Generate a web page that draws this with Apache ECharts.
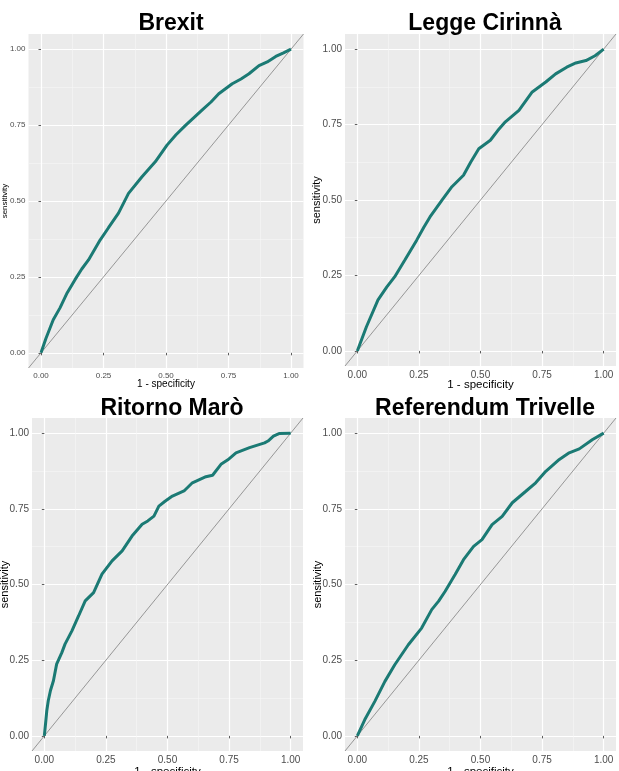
<!DOCTYPE html>
<html>
<head>
<meta charset="utf-8">
<script src="https://cdn.jsdelivr.net/npm/echarts@6/dist/echarts.min.js"></script>
<style>
html,body{margin:0;padding:0;background:#fff;}
#chart{width:619px;height:771px;}
</style>
</head>
<body>
<div id="chart"></div>
<script>
// ---- data ----
const panelTitles = ['Brexit', 'Legge Cirinnà', 'Ritorno Marò', 'Referendum Trivelle'];
const xTitle = '1 - specificity';
const yTitle = 'sensitivity';
const majorTicks = [0, 0.25, 0.5, 0.75, 1];
const minorTicks = [0.125, 0.375, 0.625, 0.875];
const refLineX = [-0.05, 1.05];
const refLineY = [-0.05, 1.05];

const brexitFpr = [0, 0.020, 0.049, 0.076, 0.105, 0.136, 0.163, 0.190, 0.237, 0.270, 0.310, 0.350, 0.404, 0.457, 0.504, 0.540, 0.578, 0.644, 0.680, 0.711, 0.765, 0.800, 0.832, 0.872, 0.905, 0.939, 0.970, 1];
const brexitTpr = [0, 0.048, 0.109, 0.148, 0.198, 0.241, 0.276, 0.306, 0.372, 0.412, 0.460, 0.525, 0.580, 0.629, 0.684, 0.718, 0.749, 0.799, 0.826, 0.853, 0.886, 0.902, 0.919, 0.946, 0.958, 0.976, 0.988, 1];

const cirinnaFpr = [0, 0.037, 0.084, 0.120, 0.152, 0.193, 0.241, 0.270, 0.295, 0.343, 0.384, 0.431, 0.460, 0.493, 0.540, 0.570, 0.601, 0.656, 0.710, 0.765, 0.805, 0.850, 0.887, 0.928, 0.965, 1];
const cirinnaTpr = [0, 0.080, 0.169, 0.212, 0.246, 0.301, 0.367, 0.410, 0.444, 0.499, 0.544, 0.582, 0.625, 0.670, 0.698, 0.730, 0.759, 0.797, 0.858, 0.891, 0.918, 0.940, 0.954, 0.962, 0.978, 1];

const maroFpr = [0, 0.005, 0.010, 0.016, 0.025, 0.037, 0.050, 0.071, 0.084, 0.112, 0.139, 0.166, 0.200, 0.234, 0.275, 0.316, 0.356, 0.397, 0.420, 0.445, 0.465, 0.490, 0.520, 0.567, 0.601, 0.656, 0.683, 0.717, 0.745, 0.778, 0.833, 0.894, 0.908, 0.930, 0.955, 1];
const maroTpr = [0, 0.040, 0.083, 0.116, 0.150, 0.182, 0.237, 0.275, 0.303, 0.347, 0.396, 0.446, 0.473, 0.534, 0.578, 0.611, 0.660, 0.699, 0.710, 0.726, 0.759, 0.775, 0.792, 0.809, 0.836, 0.856, 0.861, 0.897, 0.912, 0.935, 0.952, 0.968, 0.974, 0.990, 0.999, 1];

const trivelleFpr = [0, 0.030, 0.071, 0.112, 0.152, 0.207, 0.261, 0.302, 0.330, 0.356, 0.397, 0.431, 0.472, 0.506, 0.547, 0.588, 0.629, 0.684, 0.724, 0.765, 0.820, 0.860, 0.901, 0.955, 1];
const trivelleTpr = [0, 0.053, 0.114, 0.180, 0.235, 0.301, 0.356, 0.417, 0.445, 0.477, 0.533, 0.582, 0.626, 0.648, 0.698, 0.725, 0.770, 0.808, 0.836, 0.874, 0.913, 0.935, 0.948, 0.979, 1];

const curvesX = [brexitFpr, cirinnaFpr, maroFpr, trivelleFpr];
const curvesY = [brexitTpr, cirinnaTpr, maroTpr, trivelleTpr];

// ---- layout / style ----
const FONT = '"Liberation Sans", Arial, Helvetica, sans-serif';
const layout = [
  {left: 28.5, top: 34, width: 275, height: 334, label: 8, axTitle: 10, yTitle: 8, xGap: 11, yGap: 19.5, yLabMargin: 3},
  {left: 345, top: 34, width: 271, height: 332, label: 10, axTitle: 11.5, yTitle: 11, xGap: 13, yGap: 22.5, yLabMargin: 3},
  {left: 32, top: 418, width: 271, height: 333, label: 10, axTitle: 11.5, yTitle: 11, xGap: 15, yGap: 21.5, yLabMargin: 3},
  {left: 345, top: 418, width: 271, height: 333, label: 10, axTitle: 11.5, yTitle: 11, xGap: 15, yGap: 22, yLabMargin: 3}
];
const titlePos = [[166, 7], [480, 7], [167, 392], [480, 392]];
const teal = '#1b7a74';

const grids = [], xAxes = [], yAxes = [], series = [], titles = [];
layout.forEach((L, i) => {
  grids.push({left: L.left, top: L.top, width: L.width, height: L.height,
    show: true, backgroundColor: '#ebebeb', borderWidth: 0, containLabel: false, outerBoundsMode: 'none'});
  titles.push({text: panelTitles[i], left: titlePos[i][0], top: titlePos[i][1], textAlign: 'center',
    textStyle: {fontFamily: FONT, fontWeight: 'bold', fontSize: 23, color: '#000'}});
  const base = {type: 'value', gridIndex: i, min: -0.05, max: 1.05};
  xAxes.push(Object.assign({}, base, {
    position: 'bottom',
    name: xTitle, nameLocation: 'middle', nameGap: L.xGap, nameMoveOverlap: false,
    nameTextStyle: {fontFamily: FONT, fontSize: L.axTitle, color: '#000', verticalAlign: 'top'},
    axisLine: {show: false},
    axisTick: {show: true, length: 2.5, customValues: majorTicks, lineStyle: {color: '#333', width: 0.8}},
    axisLabel: {show: true, customValues: majorTicks, margin: 4, fontFamily: FONT, fontSize: L.label, color: '#4d4d4d',
      formatter: v => v.toFixed(2)},
    splitLine: {show: true, lineStyle: {color: '#ffffff', width: 1.2}}
  }));
  yAxes.push(Object.assign({}, base, {
    position: 'left',
    name: yTitle, nameLocation: 'middle', nameGap: L.yGap, nameRotate: 90, nameMoveOverlap: false,
    nameTextStyle: {fontFamily: FONT, fontSize: L.yTitle, color: '#000'},
    axisLine: {show: false},
    axisTick: {show: true, length: 2.5, customValues: majorTicks, lineStyle: {color: '#333', width: 0.8}},
    axisLabel: {show: true, customValues: majorTicks, margin: L.yLabMargin, fontFamily: FONT, fontSize: L.label, color: '#4d4d4d',
      formatter: v => v.toFixed(2)},
    splitLine: {show: true, lineStyle: {color: '#ffffff', width: 1.2}}
  }));
  xAxes.push(Object.assign({}, base, {
    position: 'top', axisLine: {show: false}, axisLabel: {show: false},
    axisTick: {show: false, customValues: minorTicks},
    splitLine: {show: true, lineStyle: {color: '#f6f6f6', width: 0.6}}
  }));
  yAxes.push(Object.assign({}, base, {
    position: 'right', axisLine: {show: false}, axisLabel: {show: false},
    axisTick: {show: false, customValues: minorTicks},
    splitLine: {show: true, lineStyle: {color: '#f6f6f6', width: 0.6}}
  }));
  const xi = 2 * i, yi = 2 * i;
  series.push({
    type: 'line', xAxisIndex: xi, yAxisIndex: yi, showSymbol: false, silent: true, z: 2,
    data: refLineX.map((x, k) => [x, refLineY[k]]),
    lineStyle: {color: '#808080', width: 0.8}, clip: true
  });
  series.push({
    type: 'line', xAxisIndex: xi, yAxisIndex: yi, showSymbol: false, silent: true, z: 3,
    data: curvesX[i].map((x, k) => [x, curvesY[i][k]]),
    lineStyle: {color: teal, width: 3}, itemStyle: {color: teal}, clip: true
  });
});

const chart = echarts.init(document.getElementById('chart'), null, {renderer: 'canvas'});
chart.setOption({
  animation: false,
  backgroundColor: '#ffffff',
  title: titles,
  grid: grids,
  xAxis: xAxes,
  yAxis: yAxes,
  series: series
});
</script>
</body>
</html>
